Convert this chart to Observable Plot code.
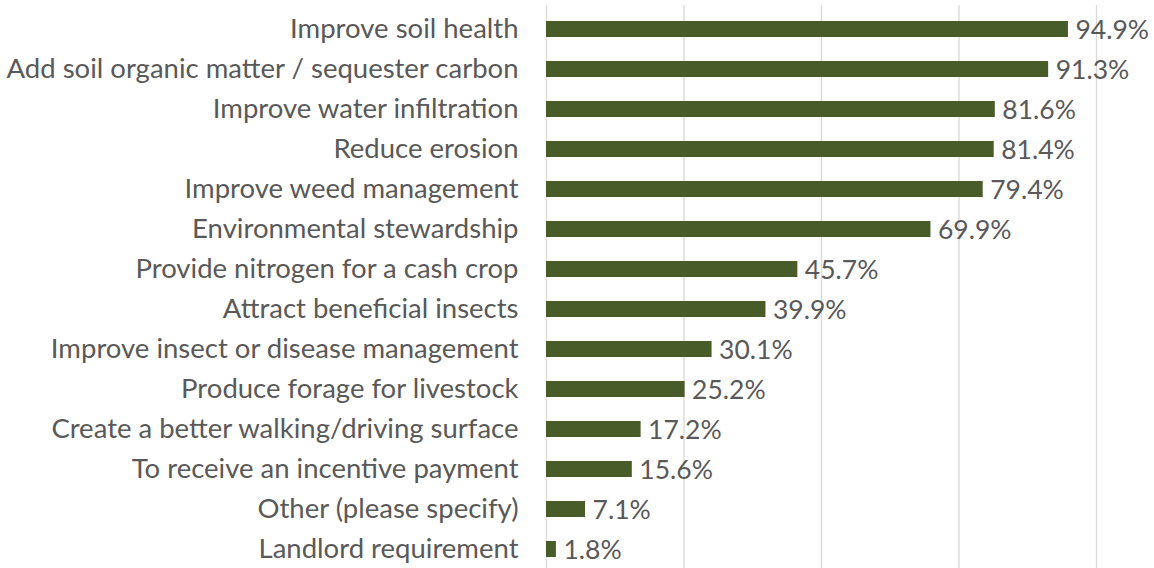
<!DOCTYPE html>
<html><head><meta charset="utf-8">
<script src="https://cdn.jsdelivr.net/npm/d3@7"></script>
<script src="https://cdn.jsdelivr.net/npm/@observablehq/plot@0.6"></script>
<style>
html,body{margin:0;padding:0;background:#fff;}
svg{display:block;}
</style>
</head><body>
<div id="chart"></div>
<script>
const categories = [
  "Improve soil health",
  "Add soil organic matter / sequester carbon",
  "Improve water infiltration",
  "Reduce erosion",
  "Improve weed management",
  "Environmental stewardship",
  "Provide nitrogen for a cash crop",
  "Attract beneficial insects",
  "Improve insect or disease management",
  "Produce forage for livestock",
  "Create a better walking/driving surface",
  "To receive an incentive payment",
  "Other (please specify)",
  "Landlord requirement"
];
const values = [94.9, 91.3, 81.6, 81.4, 79.4, 69.9, 45.7, 39.9, 30.1, 25.2, 17.2, 15.6, 7.1, 1.8];
const gridTicks = [0, 25, 50, 75, 100];

const data = categories.map((c, i) => ({category: c, value: values[i]}));

const chart = Plot.plot({
  width: 1154,
  height: 568,
  marginLeft: 546,
  marginRight: 58,
  marginTop: 5,
  marginBottom: -5.4,
  style: {fontFamily: "Lato, sans-serif", background: "#fff"},
  x: {domain: [0, 100], axis: null},
  y: {domain: categories, axis: null, paddingInner: 0.6, paddingOuter: 0.3},
  marks: [
    Plot.ruleX(gridTicks, {stroke: "#d9d9d9", strokeWidth: 1.3}),
    Plot.barX(data, {x: "value", y: "category", fill: "#485C2A"}),
    Plot.text(data, {x: "value", y: "category", text: d => d.value.toFixed(1) + "%", textAnchor: "start", dx: 7, dy: 1.5, fontSize: 26.5, fill: "#595959"}),
    Plot.text(data, {x: 0, y: "category", text: "category", textAnchor: "end", dx: -28, dy: -0.5, fontSize: 27.5, fill: "#595959"})
  ]
});
document.getElementById("chart").appendChild(chart);
</script>
</body></html>
